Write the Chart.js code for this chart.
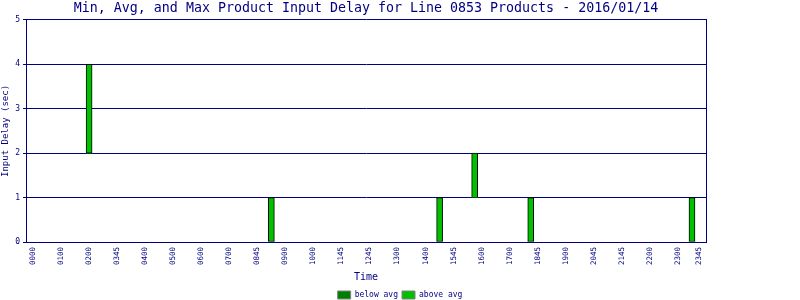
<!DOCTYPE html>
<html>
<head>
<meta charset="utf-8">
<script src="https://cdn.jsdelivr.net/npm/chart.js@4/dist/chart.umd.min.js"></script>
<style>
  html, body { margin: 0; background: #fff; }
  #wrap { width: 800px; height: 300px; }
</style>
</head>
<body>
<div id="wrap"><canvas id="chart"></canvas></div>
<script>
// hour slots on the time axis (minutes after midnight) and the text shown at each
const tickMinutes = [0, 60, 120, 180, 240, 300, 360, 420, 480, 540, 600, 660, 720, 780,
  840, 900, 960, 1020, 1080, 1140, 1200, 1260, 1320, 1380, 1425];
const tickLabels = ['0000', '0100', '0200', '0345', '0400', '0500', '0600', '0700', '0845',
  '0900', '1000', '1145', '1245', '1300', '1400', '1545', '1600', '1700', '1845', '1900',
  '2045', '2145', '2200', '2300', '2345'];

// product samples: time (minutes) and min / avg / max input delay in seconds
const sampleMinutes = [120, 510, 870, 945, 1065, 1410];
const minDelay = [2, 0, 0, 1, 0, 0];
const avgDelay = [2, 0, 0, 1, 0, 0];
const maxDelay = [4, 1, 1, 2, 1, 1];

const NAVY = '#000080';
const MONO = '"DejaVu Sans Mono", "Liberation Mono", monospace';

// GD style labels read bottom-to-top, so draw the tick text ourselves from the scale
const upTicks = {
  id: 'upTicks',
  afterDraw(chart) {
    const xs = chart.scales.x;
    const ctx = chart.ctx;
    ctx.save();
    ctx.font = '7.5px ' + MONO;
    ctx.fillStyle = NAVY;
    ctx.textAlign = 'right';
    ctx.textBaseline = 'middle';
    xs.ticks.forEach((t, i) => {
      const px = xs.getPixelForValue(t.value);
      ctx.save();
      ctx.translate(px, xs.top + 5);
      ctx.rotate(-Math.PI / 2);
      ctx.fillText(tickLabels[i], 0, 0);
      ctx.restore();
    });
    ctx.restore();
  }
};

new Chart(document.getElementById('chart'), {
  type: 'bar',
  data: {
    datasets: [{
      label: 'below avg',
      data: sampleMinutes.map((m, i) => ({ x: m, y: [minDelay[i], avgDelay[i]] })),
      backgroundColor: '#008000',
      borderWidth: 0
    }, {
      label: 'above avg',
      data: sampleMinutes.map((m, i) => ({ x: m, y: [avgDelay[i], maxDelay[i]] })),
      backgroundColor: '#00c000',
      borderColor: '#000',
      borderWidth: 1,
      borderSkipped: false
    }]
  },
  options: {
    responsive: true,
    maintainAspectRatio: false,
    animation: false,
    grouped: false,
    barThickness: 6,
    layout: { padding: 0 },
    plugins: {
      title: {
        display: true,
        fullSize: false,
        text: 'Min, Avg, and Max Product Input Delay for Line 0853 Products - 2016/01/14',
        color: NAVY,
        font: { family: MONO, size: 13.3, weight: 'normal' },
        padding: { top: 1, bottom: 3 }
      },
      legend: {
        position: 'bottom',
        maxHeight: 13,
        labels: {
          boxWidth: 13,
          boxHeight: 8,
          padding: 4,
          color: NAVY,
          font: { family: MONO, size: 8 },
          generateLabels: chart => chart.data.datasets.map((ds, i) => ({
            text: ds.label,
            fillStyle: ds.backgroundColor,
            strokeStyle: '#808080',
            lineWidth: 1,
            hidden: false,
            datasetIndex: i,
            fontColor: NAVY
          }))
        }
      },
      tooltip: { enabled: false }
    },
    scales: {
      x: {
        type: 'linear',
        offset: false,
        min: -15,
        max: 1440,
        afterFit: s => { s.height = 45; },
        grid: { display: false },
        border: { color: NAVY, width: 1 },
        afterBuildTicks: axis => { axis.ticks = tickMinutes.map(v => ({ value: v })); },
        ticks: {
          autoSkip: false,
          minRotation: 90,
          maxRotation: 90,
          padding: 5,
          color: 'rgba(0,0,0,0)',
          font: { family: MONO, size: 7.5 },
          callback: (v, i) => tickLabels[i]
        },
        title: {
          display: true,
          text: 'Time',
          color: NAVY,
          font: { family: MONO, size: 10 },
          padding: { top: 4, bottom: 4 }
        }
      },
      y: {
        min: 0,
        max: 5,
        afterFit: s => { s.width = 26; },
        grid: { color: NAVY, lineWidth: 1, tickLength: 3, tickColor: NAVY },
        border: { color: NAVY, width: 1 },
        ticks: {
          stepSize: 1,
          padding: 3,
          color: NAVY,
          font: { family: MONO, size: 8 }
        },
        title: {
          display: true,
          text: 'Input Delay (sec)',
          color: NAVY,
          font: { family: MONO, size: 9 },
          padding: 0
        }
      },
      y2: {
        position: 'right',
        display: true,
        min: 0,
        max: 5,
        afterFit: s => { s.width = 94; },
        grid: { display: false },
        border: { color: NAVY, width: 1 },
        ticks: { display: false }
      }
    }
  },
  plugins: [upTicks]
});
</script>
</body>
</html>
